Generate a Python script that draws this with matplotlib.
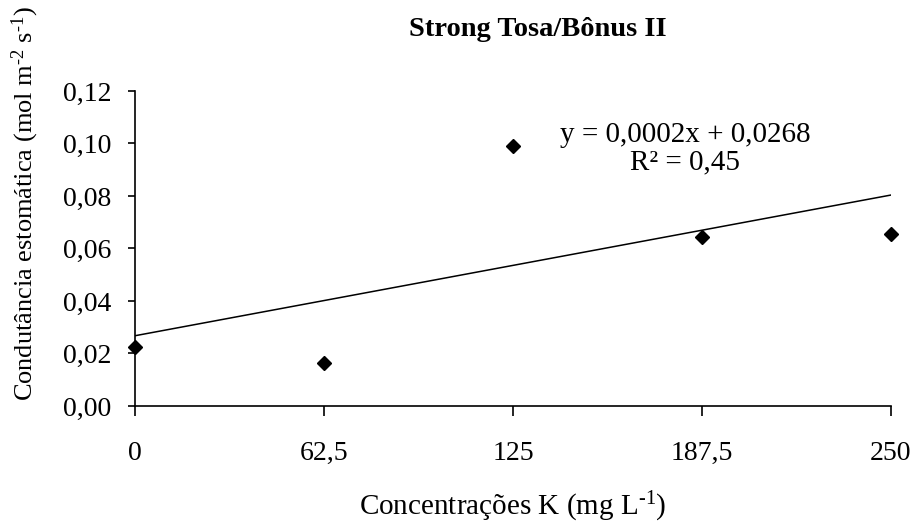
import matplotlib
matplotlib.use("Agg")
import matplotlib.pyplot as plt
import numpy as np

# data
doses = [0, 62.5, 125, 187.5, 250]
gs = [0.0225, 0.0164, 0.0990, 0.0644, 0.0655]
xtick_labels = ["0", "62,5", "125", "187,5", "250"]
yticks = [0.00, 0.02, 0.04, 0.06, 0.08, 0.10, 0.12]
ytick_labels = ["0,00", "0,02", "0,04", "0,06", "0,08", "0,10", "0,12"]
eq_text = "y = 0,0002x + 0,0268\nR² = 0,45"

plt.rcParams['font.family'] = ['Liberation Serif', 'DejaVu Serif']
plt.rcParams['mathtext.fontset'] = 'custom'
plt.rcParams['mathtext.rm'] = 'Liberation Serif'
plt.rcParams['mathtext.it'] = 'Liberation Serif:italic'

fig = plt.figure(figsize=(9.19, 5.25), dpi=100)
ax = fig.add_axes([0.1469, 0.2267, 0.8226, 0.6000])

x = np.array(doses)
y = np.array(gs)
slope, intercept = np.polyfit(x, y, 1)
xl = np.array([x.min(), x.max()])
ax.plot(xl, slope * xl + intercept, color='black', linewidth=1.1, zorder=2)
ax.plot(x, y, linestyle='none', marker='D', markersize=7,
        color='black', clip_on=False, zorder=3)

ax.set_xlim(0, 250)
ax.set_ylim(0, 0.12)
ax.set_xticks(doses)
ax.set_xticklabels(xtick_labels)
ax.set_yticks(yticks)
ax.set_yticklabels(ytick_labels)

for s in ['top', 'right']:
    ax.spines[s].set_visible(False)
for s in ['left', 'bottom']:
    ax.spines[s].set_linewidth(1.2)

ax.tick_params(axis='x', direction='out', length=7, width=1.2,
               labelsize=20, pad=18)
ax.tick_params(axis='y', direction='out', length=5, width=1.2,
               labelsize=20, pad=12)

fig.text(685 / 919, 1 - 149 / 525, eq_text, ha='center', va='center',
         fontsize=21, linespacing=1.05)

fig.text(538 / 919, 1 - 30 / 525, "Strong Tosa/Bônus II", ha='center',
         va='center', fontsize=20.5, fontweight='bold')
fig.text(513 / 919, 1 - 507 / 525,
         r"Concentrações K (mg L$^{\text{-}1}$)",
         ha='center', va='center', fontsize=21)
fig.text(25 / 919, 1 - 203 / 525,
         r"Condutância estomática (mol m$^{\text{-}2}$ s$^{\text{-}1}$)",
         ha='center', va='center', rotation=90, fontsize=19)

fig.savefig("out.png", dpi=100, facecolor='white')
